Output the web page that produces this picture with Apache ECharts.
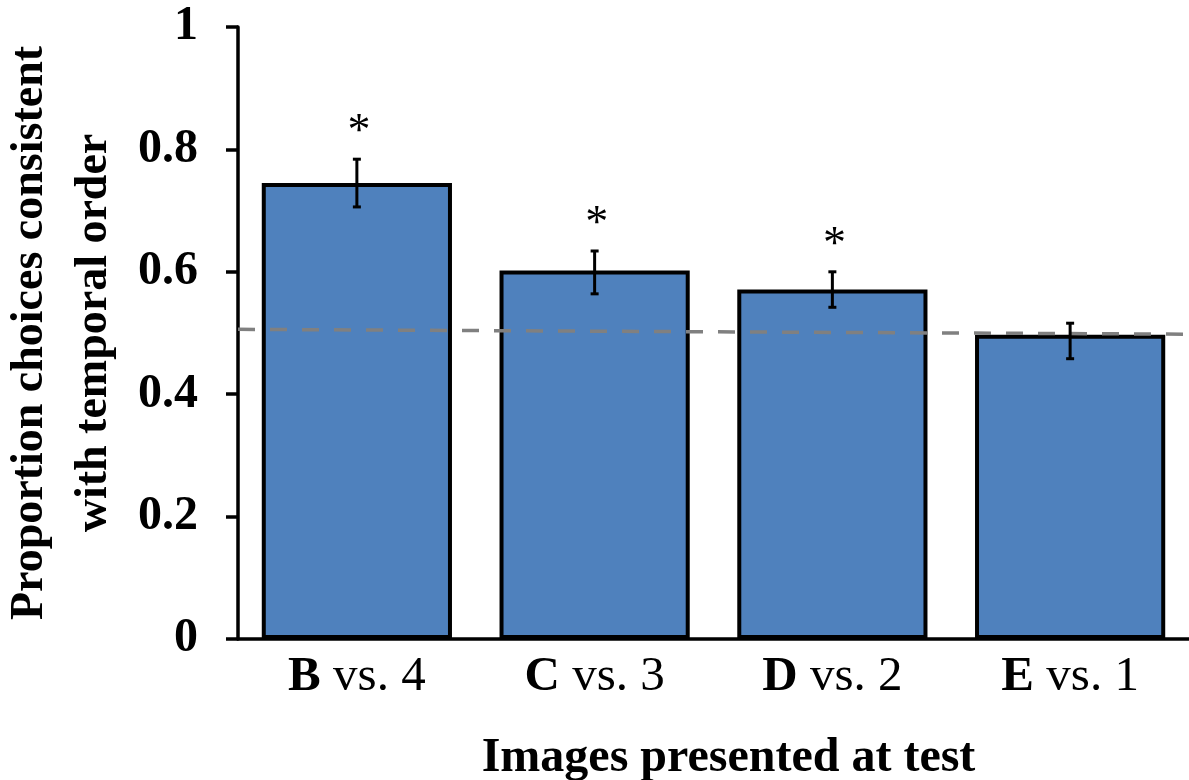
<!DOCTYPE html>
<html>
<head>
<meta charset="utf-8">
<script src="https://cdn.jsdelivr.net/npm/echarts@6/dist/echarts.min.js"></script>
<style>
  html, body { margin: 0; padding: 0; background: #ffffff; }
  #chart { width: 1189px; height: 780px; }
</style>
</head>
<body>
<div id="chart"></div>
<script>
// Test pairs: bold letter image vs. numbered image
const pairLetters = ['B', 'C', 'D', 'E'];
const pairNumbers = ['4', '3', '2', '1'];
// Mean proportion of choices consistent with temporal order
const proportions = [0.745, 0.602, 0.571, 0.497];
// Error bar limits (lower, upper)
const errLower = [0.706, 0.564, 0.542, 0.458];
const errUpper = [0.784, 0.634, 0.600, 0.516];
// Significance markers
const significant = [true, true, true, false];
// Chance reference line, endpoints across the plot
const chanceLine = [[0, 0.506], [1, 0.498]];
// Y tick settings
const yMin = 0, yMax = 1, yStep = 0.2;

const categories = pairLetters.map((l, i) => l + '|' + pairNumbers[i]);
const FONT = '"Liberation Serif", "Times New Roman", serif';

const chart = echarts.init(document.getElementById('chart'), null, { renderer: 'canvas' });

const errorData = categories.map((c, i) => [i, errLower[i], errUpper[i]]);
const starData = categories.map((c, i) => [i, errUpper[i], significant[i] ? 1 : 0]).filter(d => d[2]);

chart.setOption({
  animation: false,
  backgroundColor: '#ffffff',
  grid: {
    left: 238, right: 0, top: 27, bottom: 141,
    containLabel: false,
    outerBoundsMode: 'none'
  },
  xAxis: [
    {
      type: 'category',
      data: categories,
      axisLine: { show: true, lineStyle: { color: '#000', width: 3.5 } },
      axisTick: { show: false },
      axisLabel: {
        margin: 14,
        formatter: function (v) {
          const p = v.split('|');
          return '{b|' + p[0] + '}{r| vs. ' + p[1] + '}';
        },
        rich: {
          b: { fontFamily: FONT, fontWeight: 'bold', fontSize: 49, color: '#000' },
          r: { fontFamily: FONT, fontWeight: 'normal', fontSize: 49, color: '#000' }
        }
      },
      name: 'Images presented at test',
      nameLocation: 'middle',
      nameGap: 96,
      nameTextStyle: {
        fontFamily: FONT, fontWeight: 'bold', fontSize: 48, color: '#000',
        padding: [0, 0, 0, 30]
      }
    },
    {
      type: 'value',
      min: 0, max: 1,
      show: false,
      gridIndex: 0
    }
  ],
  yAxis: {
    type: 'value',
    min: yMin, max: yMax, interval: yStep,
    axisLine: { show: true, lineStyle: { color: '#000', width: 3.5 } },
    axisTick: { show: true, length: 12, lineStyle: { color: '#000', width: 3.5 } },
    splitLine: { show: false },
    axisLabel: {
      margin: 40,
      fontFamily: FONT, fontWeight: 'bold', fontSize: 48, color: '#000',
      formatter: function (v) { return String(Math.round(v * 10) / 10); }
    },
    name: 'Proportion choices consistent\nwith temporal order',
    nameLocation: 'middle',
    nameGap: 112,
    nameTextStyle: {
      fontFamily: FONT, fontWeight: 'bold', fontSize: 46, color: '#000',
      lineHeight: 64
    }
  },
  series: [
    {
      type: 'bar',
      data: proportions,
      barCategoryGap: '20%',
      itemStyle: { color: '#4F81BD', borderColor: '#000', borderWidth: 4 },
      z: 2
    },
    {
      type: 'line',
      xAxisIndex: 1,
      data: chanceLine,
      symbol: 'none',
      lineStyle: { color: '#808080', width: 3.5, type: [17, 15] },
      z: 3
    },
    {
      type: 'custom',
      data: errorData,
      z: 4,
      renderItem: function (params, api) {
        const lo = api.coord([api.value(0), api.value(1)]);
        const hi = api.coord([api.value(0), api.value(2)]);
        const x = lo[0];
        const cap = 4;
        const style = { stroke: '#000', lineWidth: 3 };
        return {
          type: 'group',
          children: [
            { type: 'line', shape: { x1: x, y1: lo[1], x2: x, y2: hi[1] }, style: style },
            { type: 'line', shape: { x1: x - cap, y1: lo[1], x2: x + cap, y2: lo[1] }, style: style },
            { type: 'line', shape: { x1: x - cap, y1: hi[1], x2: x + cap, y2: hi[1] }, style: style }
          ]
        };
      }
    },
    {
      type: 'custom',
      data: starData,
      z: 5,
      renderItem: function (params, api) {
        const p = api.coord([api.value(0), api.value(1)]);
        return {
          type: 'text',
          x: p[0] + 2,
          y: p[1] - 26,
          style: {
            text: '*',
            fontFamily: FONT, fontSize: 46, fontWeight: 'normal', fill: '#000',
            align: 'center', verticalAlign: 'middle'
          }
        };
      }
    }
  ]
});
</script>
</body>
</html>
